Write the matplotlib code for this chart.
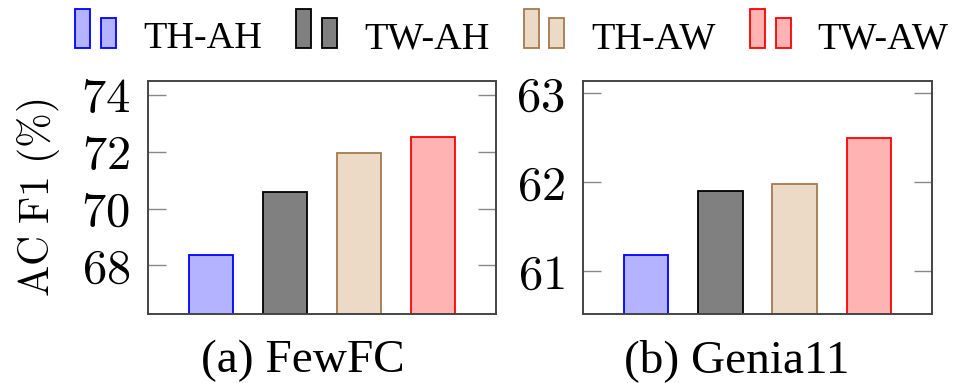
import matplotlib
matplotlib.use("Agg")
import matplotlib.pyplot as plt
import matplotlib.patches as mpatches
from matplotlib.legend_handler import HandlerBase
from matplotlib.ticker import FuncFormatter, FixedLocator

plt.rcParams['mathtext.fontset'] = 'cm'
plt.rcParams['font.family'] = ['Liberation Serif', 'DejaVu Serif']

methods = ["TH-AH", "TW-AH", "TH-AW", "TW-AW"]
fewfc_values = [68.37, 70.6, 71.94, 72.51]
genia11_values = [61.18, 61.9, 61.98, 62.5]
fewfc_ticks = [68, 70, 72, 74]
genia11_ticks = [61, 62, 63]
captions = ["(a) FewFC", "(b) Genia11"]
ylabel = r"$\mathrm{AC\ F1\ (\%)}$"

face_colors = ["#B3B3FF", "#808080", "#ECD9C6", "#FFB3B3"]
edge_colors = ["#0000FF", "#000000", "#A57A4F", "#FF0000"]


class BarPairHandler(HandlerBase):
    def create_artists(self, legend, orig_handle, xdescent, ydescent,
                       width, height, fontsize, trans):
        fc = orig_handle.get_facecolor()
        ec = orig_handle.get_edgecolor()
        w = width * 15 / 41
        x0 = -xdescent
        r1 = mpatches.Rectangle((x0, -ydescent), w, fontsize * 1.02,
                                facecolor=fc, edgecolor=ec, lw=1.3,
                                transform=trans)
        r2 = mpatches.Rectangle((x0 + width * 26 / 41, -ydescent), w,
                                fontsize * 0.785, facecolor=fc, edgecolor=ec,
                                lw=1.3, transform=trans)
        return [r1, r2]


W, H = 961, 383
fig = plt.figure(figsize=(W / 100, H / 100), dpi=100)

ax1 = fig.add_axes([148 / W, (H - 314) / H, 348 / W, 233 / H])
ax2 = fig.add_axes([583 / W, (H - 314) / H, 349 / W, 233 / H])

tickfmt = FuncFormatter(lambda v, p: r"$%d$" % round(v))

for ax, vals, ticks, ylim in [(ax1, fewfc_values, fewfc_ticks, (66.29, 74.49)),
                              (ax2, genia11_values, genia11_ticks, (60.52, 63.14))]:
    xs = list(range(len(methods)))
    ax.bar(xs, vals, width=0.6, color=face_colors, edgecolor=edge_colors,
           linewidth=1.3, bottom=0, zorder=2)
    ax.set_xlim(-0.85, 3.85)
    ax.set_ylim(*ylim)
    ax.set_xticks([])
    ax.yaxis.set_major_locator(FixedLocator(ticks))
    ax.yaxis.set_major_formatter(tickfmt)
    ax.tick_params(axis='y', direction='in', length=13, width=1.0,
                   color='#888888', labelsize=35, pad=13,
                   left=True, right=True)
    for s in ax.spines.values():
        s.set_color('#444444')
        s.set_linewidth(1.4)

ax1.set_ylabel(ylabel, fontsize=30)
ax1.yaxis.set_label_coords((62 - 148) / 348, 0.5)

fig.text(303 / W, 1 - 372 / H, captions[0], ha='center', va='baseline',
         fontsize=34)
fig.text(737 / W, 1 - 372 / H, captions[1], ha='center', va='baseline',
         fontsize=34)

handles = [mpatches.Patch(facecolor=fc, edgecolor=ec, label=m)
           for m, fc, ec in zip(methods, face_colors, edge_colors)]
fig.legend(handles=handles, loc='center', bbox_to_anchor=(512 / W, 1 - 39 / H),
           ncol=4, frameon=False, fontsize=27.5, handlelength=1.07,
           handletextpad=0.7, columnspacing=0.9, borderpad=0, borderaxespad=0,
           handler_map={mpatches.Patch: BarPairHandler()})

fig.savefig("out.png", dpi=100)
